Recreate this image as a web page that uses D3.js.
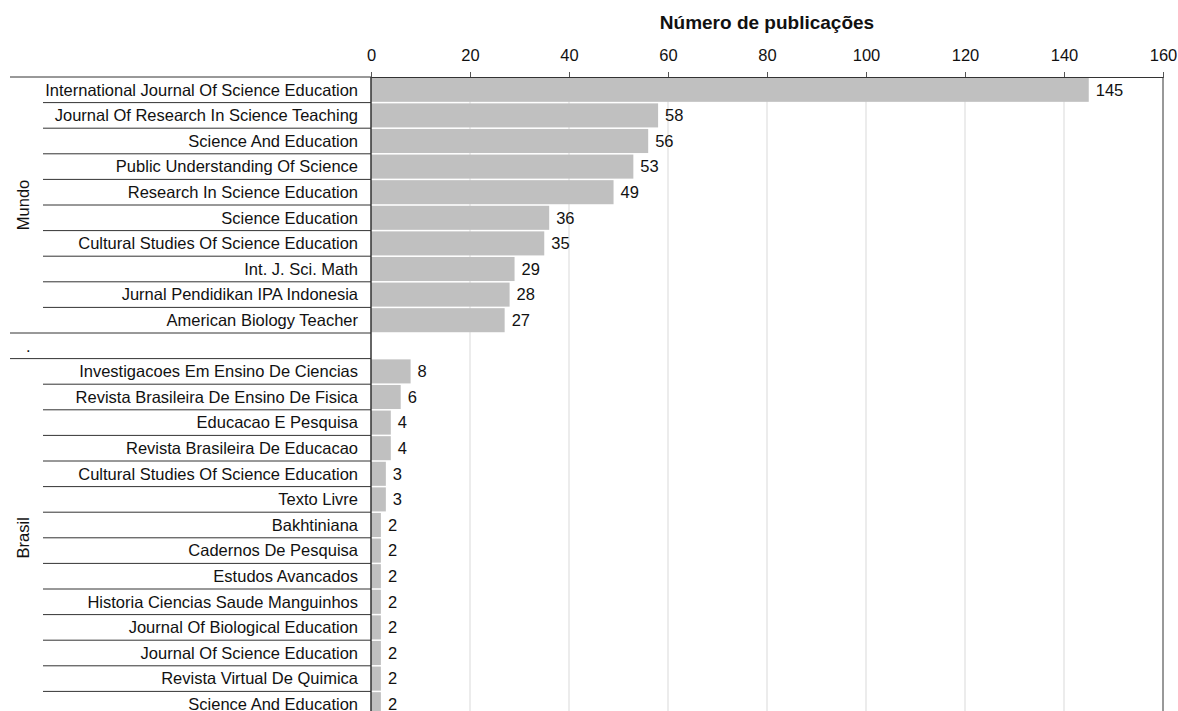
<!DOCTYPE html>
<html>
<head>
<meta charset="utf-8">
<script src="https://cdn.jsdelivr.net/npm/d3@7"></script>
<style>
  body { margin: 0; background: #fff; }
  svg { display: block; font-family: "Liberation Sans", Arial, sans-serif; }
</style>
</head>
<body>
<svg id="chart" width="1178" height="711"></svg>
<script>
// Journals per group
const mundoJournals = [
  "International Journal Of Science Education",
  "Journal Of Research In Science Teaching",
  "Science And Education",
  "Public Understanding Of Science",
  "Research In Science Education",
  "Science Education",
  "Cultural Studies Of Science Education",
  "Int. J. Sci. Math",
  "Jurnal Pendidikan IPA Indonesia",
  "American Biology Teacher"
];
const mundoValues = [145, 58, 56, 53, 49, 36, 35, 29, 28, 27];

const brasilJournals = [
  "Investigacoes Em Ensino De Ciencias",
  "Revista Brasileira De Ensino De Fisica",
  "Educacao E Pesquisa",
  "Revista Brasileira De Educacao",
  "Cultural Studies Of Science Education",
  "Texto Livre",
  "Bakhtiniana",
  "Cadernos De Pesquisa",
  "Estudos Avancados",
  "Historia Ciencias Saude Manguinhos",
  "Journal Of Biological Education",
  "Journal Of Science Education",
  "Revista Virtual De Quimica",
  "Science And Education"
];
const brasilValues = [8, 6, 4, 4, 3, 3, 2, 2, 2, 2, 2, 2, 2, 2];

const groupNames = ["Mundo", ".", "Brasil"];
const xTicks = [0, 20, 40, 60, 80, 100, 120, 140, 160];
const axisTitle = "Número de publicações";

// build the row table (the "." group is a single empty row)
let rows = [];
mundoJournals.forEach((j, i) => rows.push({ group: "Mundo", label: j, value: mundoValues[i] }));
rows.push({ group: ".", label: "", value: null });
brasilJournals.forEach((j, i) => rows.push({ group: "Brasil", label: j, value: brasilValues[i] }));
rows.forEach((r, i) => r.id = i);

const fs = 16.5;
const svg = d3.select("#chart");
const margin = { top: 77, left: 371, right: 15 };
const rowH = 25.6;
const plotW = 1178 - margin.left - margin.right;
const plotH = rows.length * rowH;

const x = d3.scaleLinear().domain([0, 160]).range([margin.left, margin.left + plotW]);
const y = d3.scaleBand()
  .domain(rows.map(d => d.id))
  .range([margin.top, margin.top + plotH])
  .paddingInner(0.06)
  .paddingOuter(0.03);

// gridlines
svg.append("g")
  .selectAll("line")
  .data(xTicks.filter(t => t > 0 && t < 160))
  .enter().append("line")
    .attr("x1", d => x(d)).attr("x2", d => x(d))
    .attr("y1", margin.top).attr("y2", margin.top + plotH)
    .attr("stroke", "#d9d9d9")
    .attr("stroke-width", 1);

// bars
svg.append("g")
  .selectAll("rect")
  .data(rows.filter(d => d.value != null))
  .enter().append("rect")
    .attr("x", x(0))
    .attr("y", d => y(d.id))
    .attr("width", d => x(d.value) - x(0))
    .attr("height", y.bandwidth())
    .attr("fill", "#c0c0c0");

// value labels
svg.append("g")
  .selectAll("text")
  .data(rows.filter(d => d.value != null))
  .enter().append("text")
    .attr("x", d => x(d.value) + 7)
    .attr("y", d => y(d.id) + y.bandwidth() / 2)
    .attr("dy", "0.35em")
    .attr("font-size", fs)
    .attr("fill", "#111")
    .text(d => d.value);

// top axis
const xAxis = d3.axisTop(x).tickValues(xTicks).tickSize(5).tickPadding(11);
const gx = svg.append("g")
  .attr("transform", `translate(0,${margin.top})`)
  .call(xAxis);
gx.select(".domain").attr("stroke", "#333");
gx.selectAll(".tick line").attr("stroke", "#555");
gx.selectAll("text").attr("font-size", fs).attr("fill", "#111")
  .attr("font-family", "Liberation Sans, Arial, sans-serif");

svg.append("text")
  .attr("x", (x(0) + x(160)) / 2)
  .attr("y", 29)
  .attr("text-anchor", "middle")
  .attr("font-size", 19)
  .attr("font-weight", "bold")
  .attr("fill", "#111")
  .text(axisTitle);

// frame: left axis line and right border
svg.append("line")
  .attr("x1", x(0)).attr("x2", x(0))
  .attr("y1", margin.top).attr("y2", margin.top + plotH)
  .attr("stroke", "#333").attr("stroke-width", 1.5);
svg.append("line")
  .attr("x1", x(160)).attr("x2", x(160))
  .attr("y1", margin.top).attr("y2", margin.top + plotH)
  .attr("stroke", "#333").attr("stroke-width", 1);

// row labels
const rowTop = i => margin.top + i * rowH;
svg.append("g")
  .selectAll("text")
  .data(rows)
  .enter().append("text")
    .attr("x", 358)
    .attr("y", d => rowTop(d.id) + rowH / 2)
    .attr("dy", "0.35em")
    .attr("text-anchor", "end")
    .attr("font-size", fs)
    .attr("fill", "#111")
    .text(d => d.label);

// row separators: long ones at group starts, short ones inside groups
svg.append("g")
  .selectAll("line")
  .data(rows)
  .enter().append("line")
    .attr("x1", d => (d.id === 0 || rows[d.id - 1].group !== d.group) ? 10 : 43)
    .attr("x2", x(0))
    .attr("y1", d => rowTop(d.id)).attr("y2", d => rowTop(d.id))
    .attr("stroke", "#333")
    .attr("stroke-width", 1);

// group labels
groupNames.forEach(g => {
  const ids = rows.filter(r => r.group === g).map(r => r.id);
  const cy = (rowTop(ids[0]) + rowTop(ids[ids.length - 1] + 1)) / 2;
  if (g === ".") {
    svg.append("text")
      .attr("x", 26).attr("y", cy).attr("dy", "0.35em")
      .attr("font-size", fs).attr("fill", "#111")
      .text(g);
  } else {
    svg.append("text")
      .attr("transform", `translate(29,${cy}) rotate(-90)`)
      .attr("text-anchor", "middle")
      .attr("font-size", fs).attr("fill", "#111")
      .text(g);
  }
});
</script>
</body>
</html>
